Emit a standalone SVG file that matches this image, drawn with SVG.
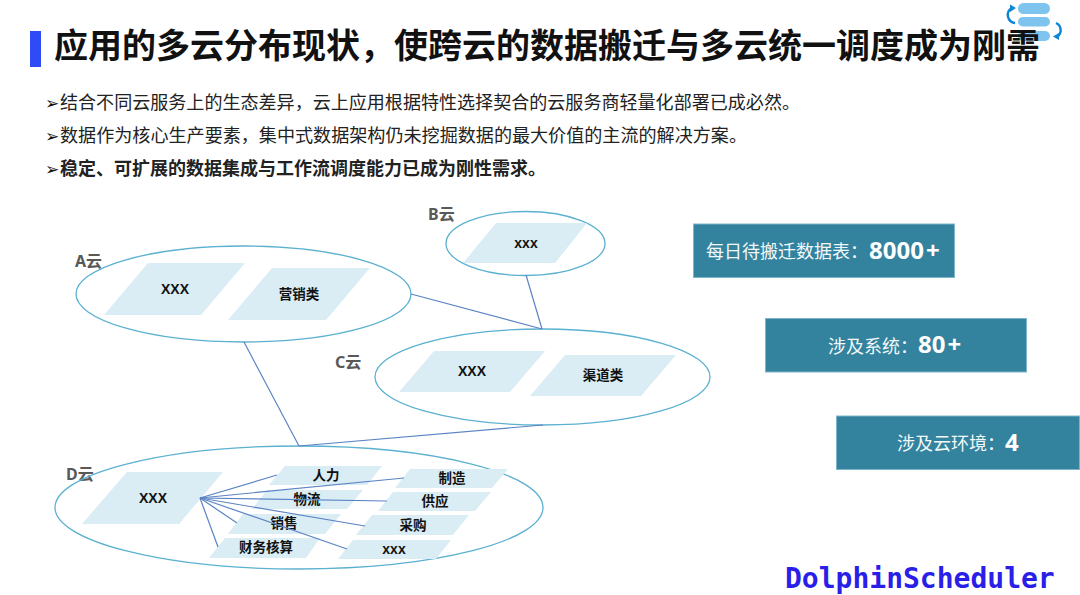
<svg xmlns="http://www.w3.org/2000/svg" width="1080" height="595" viewBox="0 0 1080 595">
<style>
text{font-family:"Noto Sans CJK SC","Noto Sans",sans-serif}
.cloud{fill:none;stroke:#5bb1d0;stroke-width:1.3}
.para{fill:#daedf4}
.lbl{font-size:13.5px;font-weight:700;fill:#111;text-anchor:middle}
.xxx{font-family:"Liberation Sans","Noto Sans CJK SC",sans-serif;font-size:14px;font-weight:700;fill:#111;text-anchor:middle}
.cn{font-family:"Noto Sans","Noto Sans CJK SC",sans-serif;font-size:16px;font-weight:700;fill:#595959}
.bul{font-size:17.9px;fill:#222}
.arr{font-family:"DejaVu Sans",sans-serif;font-size:17px;fill:#111}
.box{fill:#33839e;stroke:#7fb5c8;stroke-width:1}
.st{font-size:18px;fill:#f2f8fa}
.num{font-family:"Noto Sans","Noto Sans CJK SC",sans-serif;font-size:24px;font-weight:700;fill:#fff}
.conn{fill:none;stroke:#5b84c4;stroke-width:1.2}
.pill{fill:#7fc4ee}
.ic{fill:none;stroke:#0b85d8;stroke-width:2.4}
.ich{fill:#0b85d8}
</style>
<rect width="1080" height="595" fill="#fff"/>
<g id="logo-icon">
<rect class="pill" x="1018" y="3" width="32" height="11" rx="5.5"/>
<rect class="pill" x="1018" y="17" width="32" height="9.5" rx="4.7"/>
<rect class="pill" x="1018" y="31" width="32" height="10" rx="5"/>
<path class="ic" d="M1012 8A8 8 0 0 0 1015 23"/>
<polygon class="ich" points="1010,4.5 1010,12 1016,8"/>
<path class="ic" d="M1056 23A8 8 0 0 1 1057 37"/>
<polygon class="ich" points="1059,33 1059,40 1053,36.5"/>
</g>
<g id="title">
<rect x="30" y="31" width="11" height="36" fill="#2f4bf5"/>
<text x="54" y="58" font-size="34" font-weight="700" fill="#111">应用的多云分布现状，使跨云的数据搬迁与多云统一调度成为刚需</text>
</g>
<g id="bullets">
<text class="arr" x="45" y="109">➢</text><text class="bul" x="60" y="109" textLength="740" lengthAdjust="spacingAndGlyphs">结合不同云服务上的生态差异，云上应用根据特性选择契合的云服务商轻量化部署已成必然。</text>
<text class="arr" x="45" y="142">➢</text><text class="bul" x="60" y="142" textLength="687" lengthAdjust="spacingAndGlyphs">数据作为核心生产要素，集中式数据架构仍未挖掘数据的最大价值的主流的解决方案。</text>
<text class="arr" x="45" y="175">➢</text><text class="bul" x="60" y="175" font-weight="700" fill="#111" textLength="486" lengthAdjust="spacingAndGlyphs">稳定、可扩展的数据集成与工作流调度能力已成为刚性需求。</text>
</g>
<g id="cloud-a">
<ellipse class="cloud" cx="243.5" cy="294" rx="167.5" ry="48"/>
<text class="cn" x="75" y="267">A云</text>
<polygon class="para" points="148,263 245,263 201,315 104,315"/>
<text class="xxx" x="175" y="294">XXX</text>
<polygon class="para" points="272,268 370,268 326,320 228,320"/>
<text class="lbl" x="299" y="299">营销类</text>
</g>
<g id="cloud-b">
<ellipse class="cloud" cx="525.5" cy="243.5" rx="79.5" ry="32"/>
<text class="cn" x="428" y="220">B云</text>
<polygon class="para" points="496,223 587,223 555,263 463,263"/>
<text class="xxx" x="526" y="248">xxx</text>
</g>
<g id="cloud-c">
<ellipse class="cloud" cx="542.5" cy="377" rx="167.5" ry="48"/>
<text class="cn" x="335" y="368">C云</text>
<polygon class="para" points="434,351 545,351 510,392 399,392"/>
<text class="xxx" x="472" y="376">XXX</text>
<polygon class="para" points="565,355 676,355 641,396 530,396"/>
<text class="lbl" x="603" y="380">渠道类</text>
</g>
<g id="cloud-d">
<text class="cn" x="66" y="480">D云</text>
<ellipse class="cloud" cx="299" cy="507.5" rx="244" ry="61.5"/>
<polygon class="para" points="127,472 223,472 179,524 82,524"/>
<text class="xxx" x="153" y="503">XXX</text>
</g>
<g id="d-renli"><polygon class="para" points="285,466 382,466 367,485 269,485"/><text class="lbl" x="326" y="480">人力</text></g>
<g id="d-wuliu"><polygon class="para" points="267,490 363,490 347,509 252,509"/><text class="lbl" x="307" y="504">物流</text></g>
<g id="d-xiaoshou"><polygon class="para" points="243,514 341,514 325,534 228,534"/><text class="lbl" x="284" y="528">销售</text></g>
<g id="d-caiwu"><polygon class="para" points="225,538 320,538 306,558 209,558"/><text class="lbl" x="266" y="552">财务核算</text></g>
<g id="d-zhizao"><polygon class="para" points="410,469 508,469 492,488 395,488"/><text class="lbl" x="452" y="483">制造</text></g>
<g id="d-gongying"><polygon class="para" points="393,492 491,492 475,511 378,511"/><text class="lbl" x="435" y="506">供应</text></g>
<g id="d-caigou"><polygon class="para" points="372,515 469,515 453,535 356,535"/><text class="lbl" x="413" y="530">采购</text></g>
<g id="d-xxx"><polygon class="para" points="353,540 451,540 436,559 338,559"/><text class="xxx" x="394" y="554">xxx</text></g>
<g id="connectors">
<line class="conn" x1="411" y1="294" x2="542" y2="329"/>
<line class="conn" x1="526" y1="275" x2="542" y2="329"/>
<line class="conn" x1="244" y1="342" x2="299" y2="446"/>
<line class="conn" x1="543" y1="425" x2="299" y2="446"/>
<line class="conn" x1="200" y1="498" x2="277" y2="475"/>
<line class="conn" x1="200" y1="498" x2="404" y2="478"/>
<line class="conn" x1="200" y1="498" x2="387" y2="501"/>
<line class="conn" x1="200" y1="498" x2="365" y2="526"/>
<line class="conn" x1="200" y1="498" x2="347" y2="549"/>
<line class="conn" x1="200" y1="498" x2="237" y2="523"/>
<line class="conn" x1="200" y1="498" x2="218" y2="547"/>
</g>
<g id="stat-tables">
<rect class="box" x="693.5" y="224" width="261" height="53.5"/>
<text class="st" x="706" y="258">每日待搬迁数据表：</text><text class="num" x="869" y="259">8000<tspan dx="2">+</tspan></text>
</g>
<g id="stat-systems">
<rect class="box" x="765.5" y="318.5" width="261" height="53.5"/>
<text class="st" x="828" y="353">涉及系统：</text><text class="num" x="918" y="353">80<tspan dx="2">+</tspan></text>
</g>
<g id="stat-clouds">
<rect class="box" x="836.5" y="416" width="243" height="53.5"/>
<text class="st" x="897" y="450">涉及云环境：</text><text class="num" x="1005" y="451">4</text>
</g>
<g id="brand">
<text x="785" y="588" font-size="28" font-weight="700" fill="#2a1fe8" style="font-family:'DejaVu Sans Mono',monospace">DolphinScheduler</text>
</g>
</svg>
